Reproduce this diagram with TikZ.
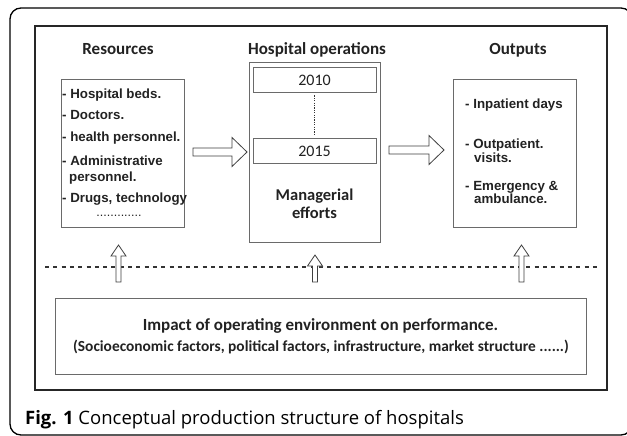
\documentclass[tikz,border=0pt]{standalone}
\usepackage{fontspec}
\setmainfont{Carlito}
\newfontfamily\arialf{Liberation Sans}
\newfontfamily\capf{Open Sans}
\usetikzlibrary{calc}
\definecolor{boxgray}{HTML}{6A6A6A}
\definecolor{txt}{HTML}{222222}
\tikzset{
  thinbox/.style={draw=boxgray, line width=0.9pt, inner sep=0pt, fill=none},
  titletxt/.style={anchor=base, inner sep=0pt, text=txt, font=\bfseries\fontsize{17}{20}\selectfont},
  listtxt/.style={anchor=base west, inner sep=0pt, text=txt, font=\arialf\bfseries\fontsize{13.3}{15}\selectfont},
  yeartxt/.style={inner sep=0pt, text=txt, font=\fontsize{16}{19}\selectfont},
  arrowline/.style={draw=black!75, line width=0.8pt, fill=white, line join=miter},
}
\newcommand{\harrow}[2]{%
  \draw[arrowline] ($(#1)+(0,-4)$) -- ($(#2)+(-15,-4)$) -- ($(#2)+(-15,-14.5)$) -- (#2)
    -- ($(#2)+(-15,14.5)$) -- ($(#2)+(-15,4)$) -- ($(#1)+(0,4)$) -- cycle;}
\newcommand{\varrow}[2]{%
  \draw[arrowline] ($(#1)+(-2.5,0)$) -- ($(#2)+(-2.5,11)$) -- ($(#2)+(-7.5,11)$) -- (#2)
    -- ($(#2)+(7.5,11)$) -- ($(#2)+(2.5,11)$) -- ($(#1)+(2.5,0)$) -- cycle;}
\begin{document}
\begin{tikzpicture}[x=1pt,y=-1pt]
\useasboundingbox (0,0) rectangle (627,436);
\fill[white] (0,0) rectangle (627,436);
% outer frame
\draw[black, line width=1.3pt, rounded corners=11pt] (10,8) rectangle (632,435);
% inner frame
\draw[black!85, line width=1.6pt] (35,26) rectangle (607,390);

% titles
\node[titletxt] (tres) at (118,55) {Resources};
\node[titletxt] (thos) at (317,55) {Hospital operations};
\node[titletxt] (tout) at (518,55) {Outputs};

% boxes
\node[thinbox, minimum width=123pt, minimum height=148pt] (res) at (122.5,153) {};
\node[thinbox, minimum width=131pt, minimum height=180pt] (hos) at (314.5,152) {};
\node[thinbox, minimum width=123pt, minimum height=148pt] (out) at (514.5,153) {};
\node[thinbox, minimum width=123pt, minimum height=25pt] (y10) at (314.5,79.5) {};
\node[thinbox, minimum width=123pt, minimum height=25pt] (y15) at (314.5,150.5) {};
\node[thinbox, minimum width=531pt, minimum height=76pt] (imp) at (320.5,336) {};

% years
\node[yeartxt] (t10) at (314.5,80.5) {2010};
\node[yeartxt] (t15) at (314.5,151.5) {2015};
\draw[black!80, line width=1.1pt, dash pattern=on 1.1pt off 1.3pt] ($(y10.south)+(0,3)$) -- ($(y15.north)+(0,-3)$);

% managerial
\node[titletxt, font=\bfseries\fontsize{16.5}{19}\selectfont] (man) at (314.5,200) {Managerial};
\node[titletxt, font=\bfseries\fontsize{16.5}{19}\selectfont] (eff) at (314.5,218) {efforts};

% resources list
\node[listtxt] (r1) at (62,99) {- Hospital beds.};
\node[listtxt] (r2) at (62,120) {- Doctors.};
\node[listtxt] (r3) at (62,142) {- health personnel.};
\node[listtxt] (r4) at (62,165) {- Administrative};
\node[listtxt] (r5) at (69,181) {personnel.};
\node[listtxt] (r6) at (62,202) {- Drugs, technology};
\node[anchor=base, inner sep=0pt, text=txt, font=\arialf\fontsize{12.5}{14}\selectfont] (r7) at (119,216) {.............};

% outputs list
\node[listtxt] (o1) at (465,109) {- Inpatient days};
\node[listtxt] (o2) at (465,148) {- Outpatient.};
\node[listtxt] (o3) at (474,162) {visits.};
\node[listtxt] (o4) at (465,190) {- Emergency \&};
\node[listtxt] (o5) at (474,203) {ambulance.};

% impact text
\node[titletxt] (i1) at (320.5,330) {Impact of operating environment on performance.};
\node[titletxt, font=\bfseries\fontsize{15.4}{18}\selectfont] (i2) at (321,351) {(Socioeconomic factors, political factors, infrastructure, market structure ......)};

% dashed separator
\coordinate (dl) at (45,267);
\coordinate (dr) at (600,267);
\draw[black!80, line width=1.2pt, dash pattern=on 4pt off 4.3pt] (dl) -- (dr);

% horizontal hollow arrows
\coordinate (a1s) at (193,152);
\coordinate (a1e) at (247,152);
\coordinate (a2s) at (389,150);
\coordinate (a2e) at (444,150);
\harrow{a1s}{a1e}
\harrow{a2s}{a2e}

% vertical hollow arrows
\coordinate (u1b) at (118.5,282);
\coordinate (u1t) at (118.5,245);
\coordinate (u2b) at (315,282);
\coordinate (u2t) at (315,255);
\coordinate (u3b) at (521.5,282);
\coordinate (u3t) at (521.5,245);
\varrow{u1b}{u1t}
\varrow{u2b}{u2t}
\varrow{u3b}{u3t}

% caption
\node[anchor=base west, inner sep=0pt, font=\capf\fontsize{18.5}{21}\selectfont] (cap) at (25,424) {\textbf{Fig. 1} Conceptual production structure of hospitals};
\end{tikzpicture}
\end{document}
